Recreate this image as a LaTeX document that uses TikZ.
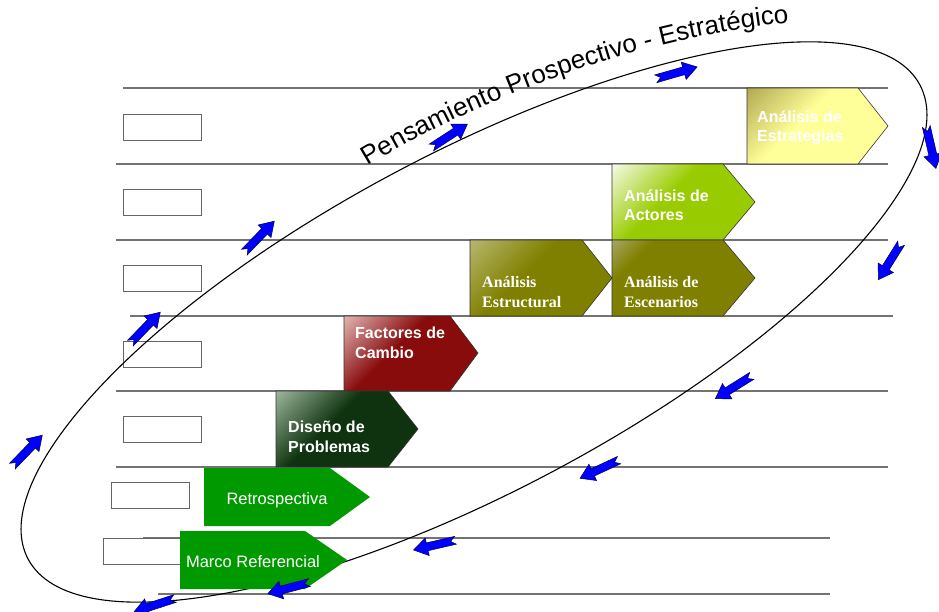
\documentclass[tikz,border=0pt]{standalone}
\usepackage{fontspec}
\setmainfont{Liberation Sans}
\newfontfamily\timesfont{Liberation Serif}
\usetikzlibrary{decorations.text}

\definecolor{estratY}{HTML}{FFFF99}
\definecolor{estratD}{HTML}{B0A850}
\definecolor{actorG}{HTML}{99CC00}
\definecolor{actorL}{HTML}{F8FBEE}
\definecolor{oliveM}{HTML}{808000}
\definecolor{oliveL}{HTML}{B8B870}
\definecolor{escenL}{HTML}{A8A868}
\definecolor{factorR}{HTML}{880C0C}
\definecolor{factorL}{HTML}{E4B8B8}
\definecolor{disenoG}{HTML}{0E330E}
\definecolor{disenoL}{HTML}{A0B8A0}
\definecolor{retroG}{HTML}{009900}

\colorlet{mainc}{black}
\colorlet{litec}{white}
\pgfdeclareverticalshading[mainc,litec]{cornerfade}{100bp}{color(0bp)=(mainc);
  color(57bp)=(mainc); color(86bp)=(litec); color(100bp)=(litec)}
\pgfdeclareverticalshading[mainc,litec]{cornertiny}{100bp}{color(0bp)=(mainc);
  color(72bp)=(mainc); color(86bp)=(litec); color(100bp)=(litec)}

\begin{document}
\begin{tikzpicture}[x=1pt, y=-1pt,
    rowline/.style={draw=black!55, line width=1.2pt},
    slot/.style={draw=black!60, line width=0.9pt, fill=white, minimum width=78pt,
                 minimum height=26pt, inner sep=0pt},
    chev/.style 2 args={draw=black!80, line width=0.6pt,
                 /utils/exec={\colorlet{mainc}{#1}\colorlet{litec}{#2}},
                 shade, shading=cornerfade, shading angle=45},
    flatchev/.style={fill=retroG},
    boxtext/.style={text=white, font=\bfseries\fontsize{16}{19.5}\selectfont,
                 align=left, inner sep=0pt, anchor=west},
    serifbox/.style={boxtext, font=\timesfont\bfseries\fontsize{16}{19.5}\selectfont},
    plaintext/.style={text=white, font=\fontsize{16.5}{19}\selectfont, inner sep=0pt},
    orbit/.style={draw=black, line width=1.1pt},
    flow/.pic={\path[fill=blue, draw=blue!30!black, line width=0.5pt]
       (-21,-4) -- (8,-4) -- (8,-9) -- (22,0) -- (8,9) -- (8,4) -- (-21,4) -- (-16,0) -- cycle;}]
 \useasboundingbox (0,0) rectangle (939,612);

 % filas
 \foreach \y/\a/\b in {88/123/888, 164/116/888, 240/116/888, 316/130/893,
                       391/116/888, 467/116/888, 538/143/830, 594/158/830}
   \draw[rowline] (\a,\y) -- (\b,\y);

 % casillas vacias
 \node[slot] (slot1) at (162,127) {};
 \node[slot] (slot2) at (162,202) {};
 \node[slot] (slot3) at (162,278) {};
 \node[slot] (slot4) at (162,354) {};
 \node[slot] (slot5) at (162,429) {};
 \node[slot] (slot6) at (150,495) {};
 \node[slot] (slot7) at (142,551) {};

 % ciclo
 \draw[orbit, rotate around={28:(474,322)}] (474,322) ellipse [x radius=505, y radius=169];

 % etapas
 \path[chev={estratY}{estratD}] (747,88) -- (858,88) -- (888,126) -- (858,164) -- (747,164) -- cycle;
 \path[chev={actorG}{actorL}] (612,164) -- (723,164) -- (755,202) -- (723,240) -- (612,240) -- cycle;
 \path[chev={oliveM}{oliveL}] (470,240) -- (582,240) -- (612,278) -- (582,316) -- (470,316) -- cycle;
 \path[chev={oliveM}{escenL}, shading=cornertiny] (612,240) -- (723,240) -- (755,278) -- (723,316) -- (612,316) -- cycle;
 \path[chev={factorR}{factorL}] (344,316) -- (450,316) -- (478,353) -- (450,391) -- (344,391) -- cycle;
 \path[chev={disenoG}{disenoL}] (276,391) -- (388,391) -- (418,429) -- (388,467) -- (276,467) -- cycle;
 \path[flatchev] (204,468) -- (330,468) -- (370,497) -- (330,526) -- (204,526) -- cycle;
 \path[flatchev] (180,531) -- (305,531) -- (347,560) -- (305,589) -- (180,589) -- cycle;

 \node[boxtext] (estrategias) at (757,128) {Análisis de\\Estrategias};
 \node[boxtext] (actores) at (624,205) {Análisis de\\Actores};
 \node[serifbox] (estructural) at (482,292) {Análisis\\Estructural};
 \node[serifbox] (escenarios) at (624,292) {Análisis de\\Escenarios};
 \node[boxtext] (factores) at (355,343) {Factores de\\Cambio};
 \node[boxtext] (diseno) at (288,437) {Diseño de\\Problemas};
 \node[plaintext] (retro) at (277,500) {Retrospectiva};
 \node[plaintext] (marco) at (253,562) {Marco Referencial};

 % titulo
 \path[decorate, decoration={text along path, text align=left,
       text={|\fontsize{26}{30}\selectfont|Pensamiento Prospectivo - Estratégico}}]
   (368,166) .. controls (480,98) and (640,36) .. (797,22);

 % flechas de sentido
 \foreach \p/\a in {(27,451)/46, (145,328)/46, (259,237)/46, (449,136)/33,
                    (676,73)/16, (931,147)/-77, (890,261)/-122, (734,387)/-148,
                    (600,469)/-155, (435,545)/-167, (289,588)/-165, (155,605)/-162}
   \pic[rotate=\a] at \p {flow};
\end{tikzpicture}
\end{document}
